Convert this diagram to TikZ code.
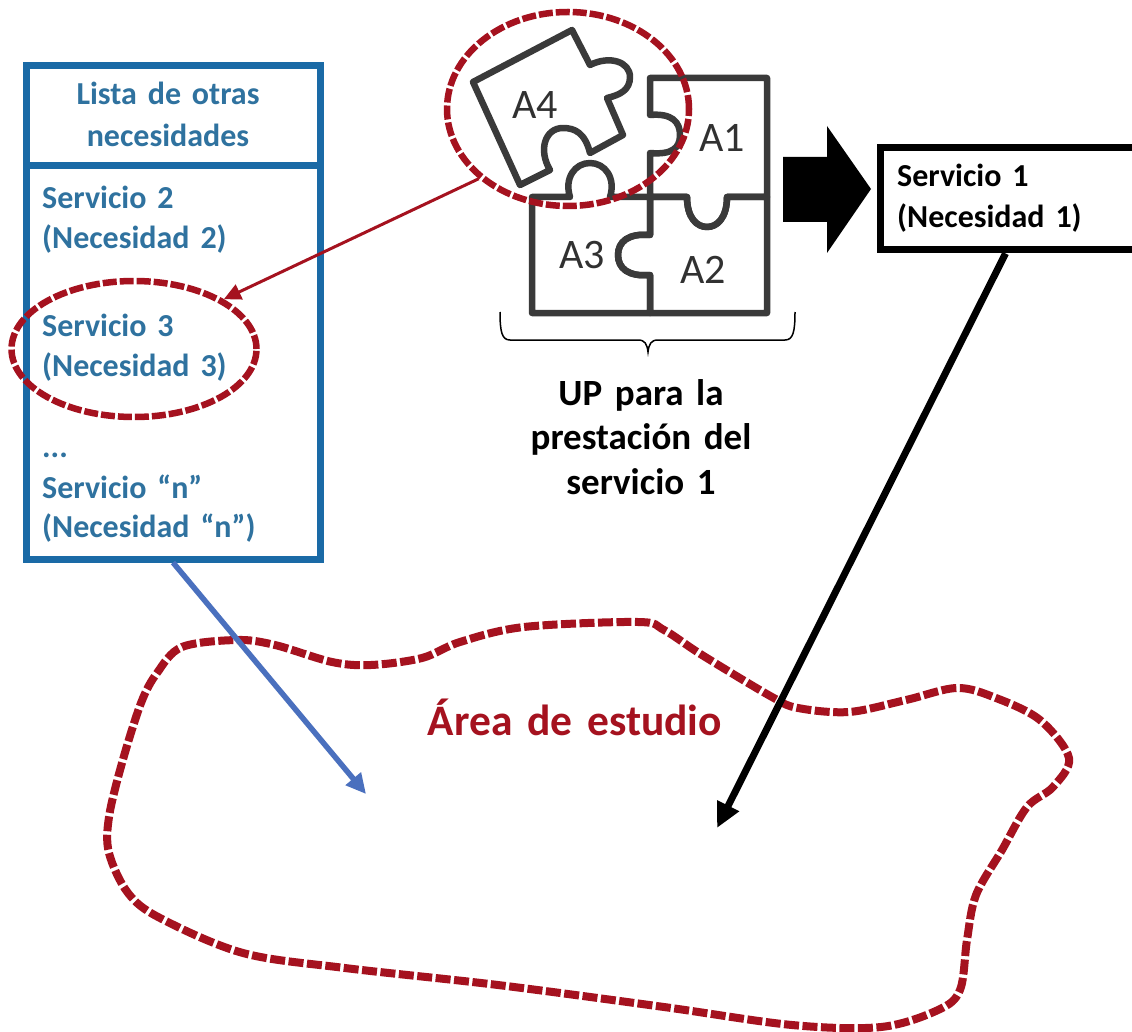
\documentclass[tikz,border=0pt]{standalone}
\usepackage{fontspec}
\setmainfont[WordSpace=1.5]{Carlito}
\usetikzlibrary{arrows.meta,shapes.geometric}
\definecolor{listblue}{HTML}{1A6AA6}
\definecolor{listtext}{HTML}{2F729F}
\definecolor{arrowblue}{HTML}{4A70BE}
\definecolor{areared}{HTML}{A5121F}
\definecolor{piecegray}{HTML}{3A3A3A}
\tikzset{
  listbox/.style  = {shape=rectangle, draw=listblue, line width=7pt, inner sep=0pt},
  listtxt/.style  = {font=\fontsize{32}{39}\selectfont\bfseries, text=listtext,
                     align=left, inner sep=0pt, anchor=north west},
  srvbox/.style   = {shape=rectangle, draw=black, line width=7pt, inner sep=0pt},
  oval/.style     = {ellipse, draw=areared, line width=6.5pt, inner sep=0pt,
                     dash pattern=on 14pt off 3pt},
  piece/.style    = {draw=piecegray, line width=6.5pt, line join=round},
  piecetxt/.style = {font=\fontsize{42}{42}\selectfont, text=piecegray!85!black, inner sep=0pt},
  boldtxt/.style  = {font=\fontsize{37}{44.5}\selectfont\bfseries, align=center, inner sep=0pt}
}

\begin{document}
\begin{tikzpicture}[x=1pt,y=-1pt]
  \clip (0,0) rectangle (1132,1032);
  \fill [white] (0,0) rectangle (1132,1032);

  % study area
  \draw [areared, line width=8pt, dash pattern=on 15pt off 3.5pt]
    plot [smooth cycle, tension=0.55] coordinates {
      (182,647) (237,640) (275,645) (332,662) (371,665) (422,658) (460,642)
      (524,627) (638,622) (664,630) (702,655) (772,697) (798,708) (849,712)
      (906,700) (957,688) (996,698) (1040,720) (1069,758) (1053,787) (1027,807)
      (1002,850) (976,895) (967,940) (960,990) (938,1010) (881,1027) (792,1025)
      (664,1007) (498,985) (345,968) (243,953) (160,918) (128,893) (109,853)
      (109,817) (122,763) (141,703) (157,673)};
  \node (area) [font=\fontsize{43.5}{43.5}\selectfont\bfseries, text=areared, inner sep=0pt,
                anchor=base] at (575,735) {Área de estudio};

  % puzzle
  \draw [piece] (650,78) -- (767,78) -- (767,197) -- (727,197)
    .. controls (727,218) and (717,227) .. (707,227)
    .. controls (697,227) and (687,218) .. (687,197)
    -- (650,197) -- (650,153)
    .. controls (672,155) and (680,148) .. (680,135)
    .. controls (680,122) and (672,113) .. (650,115) -- cycle;
  \draw [piece] (650,197) -- (687,197)
    .. controls (687,218) and (697,227) .. (707,227)
    .. controls (717,227) and (727,218) .. (727,197)
    -- (767,197) -- (767,313) -- (650,313) -- (650,275)
    .. controls (628,277) and (618,268) .. (618,255)
    .. controls (618,242) and (628,233) .. (650,235) -- cycle;
  \draw [piece] (532,197) -- (570,197)
    .. controls (564,178) and (575,163) .. (590,163)
    .. controls (605,163) and (616,178) .. (610,197)
    -- (650,197) -- (650,235)
    .. controls (628,233) and (618,242) .. (618,255)
    .. controls (618,268) and (628,277) .. (650,275)
    -- (650,313) -- (532,313) -- cycle;
  \draw [piece] (572,30) -- (590,65)
    .. controls (610,55) and (630,62) .. (630,77)
    .. controls (630,90) and (620,95) .. (607,98)
    -- (623,135) -- (590,153)
    .. controls (585,133) and (575,128) .. (563,128)
    .. controls (545,128) and (538,150) .. (550,170)
    -- (520,185) -- (473,82) -- cycle;
  \node (a1) [piecetxt] at (722,138) {A1};
  \node (a2) [piecetxt] at (703,270) {A2};
  \node (a3) [piecetxt] at (582,255) {A3};
  \node (a4) [piecetxt] at (535,105) {A4};

  % brace under the puzzle
  \draw [line width=1.5pt] (500,312) .. controls (500,332) and (502,340) .. (510,340)
    -- (638,340) .. controls (645,340) and (647,344) .. (648,352)
    .. controls (649,344) and (651,340) .. (658,340)
    -- (785,340) .. controls (793,340) and (795,332) .. (795,312);
  \node (up) [boldtxt, anchor=north] at (641,379) {UP para la\\prestación del\\servicio 1};

  % boxes
  \node (head) [listbox, minimum width=294pt, minimum height=100pt] at (173,116) {};
  \node (list) [listbox, minimum width=294pt, minimum height=393pt] at (173,362.5) {};
  \node (headtxt) [listtxt, align=center, anchor=north, font=\fontsize{32}{42}\selectfont\bfseries]
    at (168,82) {Lista de otras\\necesidades};
  \node (srv2) [listtxt] at (42,186) {Servicio 2\\[1pt](Necesidad 2)};
  \node (srv3) [listtxt] at (42,314) {Servicio 3\\[1pt](Necesidad 3)};
  \node (srvn) [listtxt] at (42,453) {...\\[2pt]Servicio “n”\\(Necesidad “n”)};
  \node (srv1) [srvbox, minimum width=300pt, minimum height=102pt] at (1030.5,199) {};
  \node (srv1txt) [listtxt, text=black, font=\fontsize{32}{41}\selectfont\bfseries]
    at (897,164) {Servicio 1\\(Necesidad 1)};

  % highlights
  \node (bigoval) [oval, minimum width=242pt, minimum height=194pt] at (568,109) {};
  \node (smalloval) [oval, minimum width=245pt, minimum height=136pt] at (134,349) {};

  % arrows
  \fill (783,157) -- (827,157) -- (827,126) -- (871,189) -- (827,253) -- (827,222) -- (783,222) -- cycle;
  \coordinate (bluetip) at (366,794);
  \coordinate (blacktip) at (717,828);
  \draw [areared, line width=3pt, -{Triangle[length=17pt,width=16pt]}] (bigoval.218) -- (smalloval.29);
  \draw [arrowblue, line width=5.5pt, -{Triangle[length=20pt,width=19pt]}] (list.south) -- (bluetip);
  \draw [black, line width=7pt, -{Triangle[length=25pt,width=23pt]}] ([xshift=-25pt]srv1.south) -- (blacktip);
\end{tikzpicture}
\end{document}
